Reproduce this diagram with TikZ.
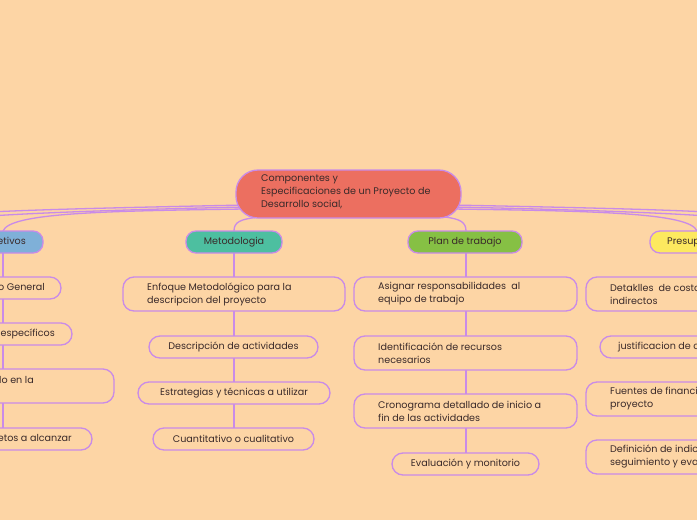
\documentclass[tikz,border=0pt]{standalone}
\usepackage{fontspec}
\setmainfont{Poppins}
\begin{document}
\begin{tikzpicture}[x=1pt,y=-1pt,
  ln/.style={draw=lc,line width=1.3pt},
  box/.style={draw=lc,line width=1.3pt,rounded corners=11pt,font=\fontsize{9.6}{12}\selectfont,text=tc,inner sep=0pt,anchor=center},
  main/.style={box,rounded corners=10pt},
  tx/.style={font=\fontsize{9.6}{13}\selectfont,text=tc,align=left,anchor=west,inner sep=0pt},
  tr/.style={tx,anchor=east},
]
\definecolor{bg}{HTML}{FDD5A5}
\definecolor{lc}{HTML}{C98BE8}
\definecolor{tc}{HTML}{3A2A2A}
\definecolor{rootc}{HTML}{EC6F60}
\definecolor{c1}{HTML}{7FB0D8}
\definecolor{c2}{HTML}{4DBFA0}
\definecolor{c3}{HTML}{86C044}
\definecolor{c4}{HTML}{FDE95F}
\useasboundingbox (0,0) rectangle (697,520);
\clip (0,0) rectangle (697,520);
\fill[bg] (0,0) rectangle (697,520);
% connectors from root
\coordinate (l1) at (-10,212);\coordinate (l2) at (-10,216);
\coordinate (r1) at (707,212);\coordinate (r2) at (707,216);
\draw[ln] (245,205) .. controls (150,207) and (50,209) .. (l1);
\draw[ln] (245,207) .. controls (150,209) and (50,212) .. (l2);
\draw[ln] (245,209) .. controls (100,211) and (10,213) .. (3,231);
\draw[ln] (260,217) .. controls (240,219) and (234,222) .. (234,231);
\draw[ln] (445,217) .. controls (460,219) and (466,222) .. (466,231);
\draw[ln] (452,205) .. controls (550,207) and (650,209) .. (r1);
\draw[ln] (452,207) .. controls (550,209) and (650,212) .. (r2);
\draw[ln] (452,209) .. controls (600,211) and (690,213) .. (697,231);
% vertical trunks
\draw[ln] (3,242) -- (3,439);
\draw[ln] (234,242) -- (234,439);
\draw[ln] (466,242) -- (466,464);
\draw[ln] (700,242) -- (700,457);
% root
\node[box,fill=rootc,minimum width=225pt,minimum height=48pt,rounded corners=22pt] (root) at (348.5,194) {};
\node[font=\fontsize{9.6}{13}\selectfont,text=tc,align=left,anchor=north west,inner sep=0pt] (rt) at (261,175) {Componentes y\\Especificaciones de un Proyecto de\\Desarrollo social,};
% main nodes
\node[main,fill=c1,minimum width=96pt,minimum height=22pt] (m1) at (-5,242) {};
\node[tr] at (26,242) {Objetivos};
\node[main,fill=c2,minimum width=96pt,minimum height=22pt] (m2) at (234,242) {Metodologia};
\node[main,fill=c3,minimum width=114pt,minimum height=22pt] (m3) at (465,242) {Plan de trabajo};
\node[main,fill=c4,minimum width=100pt,minimum height=22pt] (m4) at (700,242) {};
\node[tx] at (667,242) {Presupuesto};
% column 1
\node[box,fill=bg,minimum width=130pt,minimum height=22pt] (a1) at (-4,288) {};
\node[tr] at (45,288) {Objetivo General};
\node[box,fill=bg,minimum width=150pt,minimum height=22pt] (a2) at (-3,334) {};
\node[tr] at (55,334) {Objetivos específicos};
\node[box,fill=bg,minimum width=230pt,minimum height=34pt] (a3) at (-1,386) {};
\node[tr] at (34,380) {Desarrollo en la};
\node[box,fill=bg,minimum width=186pt,minimum height=22pt] (a4) at (-1,439) {};
\node[tr] at (72,439) {Objetos a alcanzar};
% column 2
\node[box,fill=bg,minimum width=222pt,minimum height=34pt] (b1) at (234,294) {};
\node[tx] at (147,294) {Enfoque Metodológico para la\\descripcion del proyecto};
\node[box,fill=bg,minimum width=169pt,minimum height=22pt] (b2) at (233.5,347) {Descripción de actividades};
\node[box,fill=bg,minimum width=192pt,minimum height=22pt] (b3) at (234,393) {Estrategias y técnicas a utilizar};
\node[box,fill=bg,minimum width=161pt,minimum height=22pt] (b4) at (233.5,439) {Cuantitativo o cualitativo};
% column 3
\node[box,fill=bg,minimum width=223pt,minimum height=34pt] (c1n) at (465.5,294) {};
\node[tx] at (378,294) {Asignar responsabilidades\ \ al\\equipo de trabajo};
\node[box,fill=bg,minimum width=223pt,minimum height=34pt] (c2n) at (465.5,353) {};
\node[tx] at (378,353) {Identificación de recursos\\necesarios};
\node[box,fill=bg,minimum width=223pt,minimum height=34pt] (c3n) at (465.5,411) {};
\node[tx] at (378,411) {Cronograma detallado de inicio a\\fin de las actividades};
\node[box,fill=bg,minimum width=147pt,minimum height=22pt] (c4n) at (465.5,464) {Evaluación y monitorio};
% column 4
\node[box,fill=bg,minimum width=230pt,minimum height=34pt] (d1) at (701,294) {};
\node[tx] at (610,294) {Detaklles\ \ de costos directos e\\indirectos};
\node[box,fill=bg,minimum width=200pt,minimum height=22pt] (d2) at (700,347) {};
\node[tx] at (618,347) {justificacion de costos};
\node[box,fill=bg,minimum width=230pt,minimum height=34pt] (d3) at (701,399) {};
\node[tx] at (610,399) {Fuentes de financiamiento del\\proyecto};
\node[box,fill=bg,minimum width=230pt,minimum height=34pt] (d4) at (701,457) {};
\node[tx] at (610,457) {Definición de indicadores de\\seguimiento y evaluación};
\end{tikzpicture}
\end{document}
